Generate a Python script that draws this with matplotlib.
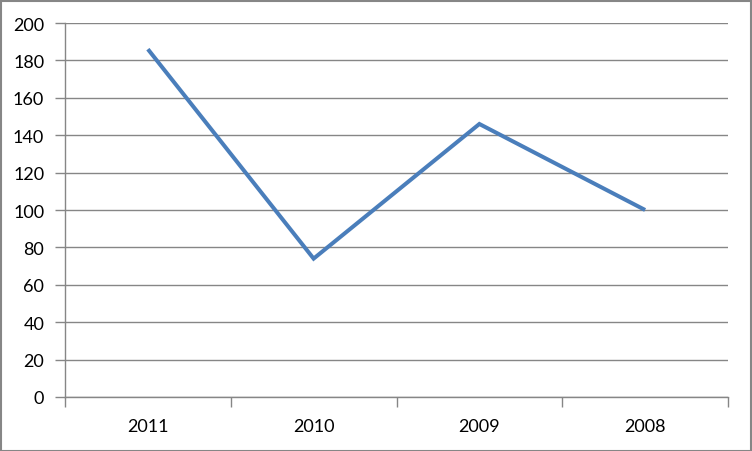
import matplotlib
matplotlib.use("Agg")
import matplotlib.pyplot as plt
from matplotlib.patches import Rectangle

categories = ["2011", "2010", "2009", "2008"]
values = [186, 74, 146, 100]
yticks = [0, 20, 40, 60, 80, 100, 120, 140, 160, 180, 200]

plt.rcParams['font.family'] = ['Lato', 'DejaVu Sans']

fig = plt.figure(figsize=(7.52, 4.52), dpi=100)
ax = fig.add_axes([65/752, 54/452, (728-65)/752, (398-24)/452])

x = list(range(len(categories)))
ax.plot(x, values, color="#4A7EBB", linewidth=2.9, solid_joinstyle="miter", solid_capstyle="butt", zorder=3)

ax.set_xlim(-0.5, len(categories) - 0.5)
ax.set_ylim(0, 200)
ax.set_yticks(yticks)
ax.set_yticklabels([str(v) for v in yticks])
ax.set_xticks(x)
ax.set_xticklabels(categories)
ax.set_xticks([i - 0.5 for i in range(len(categories) + 1)], minor=True)

grid_c = "#868686"
ax.grid(axis="y", color=grid_c, linewidth=1.0, zorder=0)
for s in ["top", "right"]:
    ax.spines[s].set_visible(False)
for s in ["left", "bottom"]:
    ax.spines[s].set_color(grid_c)
    ax.spines[s].set_linewidth(1.0)

ax.tick_params(axis="y", length=7, width=1, color=grid_c, pad=8, labelsize=13, labelcolor="black")
ax.tick_params(axis="x", which="major", length=0, pad=15, labelsize=13, labelcolor="black")
ax.tick_params(axis="x", which="minor", length=7, width=1, color=grid_c)

fig.patches.append(Rectangle((0.5/752, 0.5/452), 1 - 2/752, 1 - 2/452, transform=fig.transFigure,
                             fill=False, edgecolor="#868686", linewidth=1.5))

fig.savefig("out.png", dpi=100)
